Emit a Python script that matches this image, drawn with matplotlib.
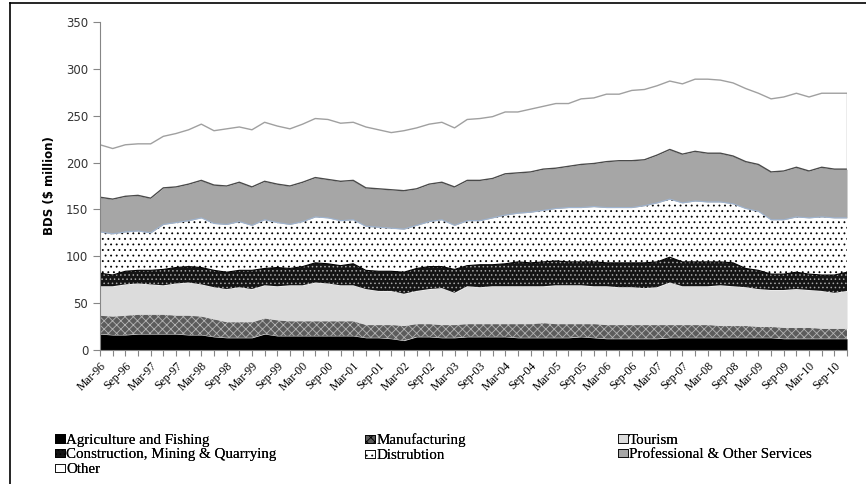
import numpy as np
import matplotlib
matplotlib.use('Agg')
import matplotlib.pyplot as plt
from matplotlib.patches import Patch
from matplotlib.lines import Line2D


# Кварталы (категории оси X)
years = ['96', '97', '98', '99', '00', '01', '02', '03', '04', '05', '06', '07', '08', '09', '10']
months = ['Mar', 'Jun', 'Sep', 'Dec']
quarters = [m + '-' + y for y in years for m in months]

# Значения по секторам, BDS $ млн
agriculture = [17, 16, 16, 17, 17, 17, 17, 16, 16, 14, 13, 13, 13, 17, 15, 15, 15, 15, 15, 15,
               15, 13, 13, 12, 10, 14, 14, 13, 13, 14, 14, 14, 14, 13, 13, 13, 13, 13, 14, 13,
               12, 12, 12, 12, 12, 13, 13, 13, 13, 13, 13, 13, 13, 13, 12, 12, 12, 12, 12, 12]
manufacturing = [20, 20, 21, 21, 21, 21, 20, 21, 20, 19, 17, 17, 17, 17, 17, 16, 16, 16, 16, 16,
                 16, 14, 14, 15, 16, 14, 14, 14, 14, 14, 14, 14, 14, 15, 15, 16, 15, 15, 14, 15,
                 15, 15, 15, 15, 15, 14, 14, 14, 14, 13, 13, 13, 12, 12, 12, 12, 12, 11, 11, 11]
tourism = [31, 32, 33, 33, 32, 31, 34, 35, 34, 34, 35, 37, 35, 35, 36, 38, 38, 41, 40, 38,
           38, 38, 36, 36, 34, 35, 37, 39, 34, 40, 39, 40, 40, 40, 40, 39, 41, 41, 41, 40,
           41, 40, 40, 39, 40, 45, 41, 41, 41, 43, 42, 41, 40, 39, 40, 41, 40, 40, 38, 40]
construction = [14, 12, 14, 14, 15, 17, 17, 17, 18, 18, 18, 18, 20, 18, 20, 18, 20, 21, 21, 21,
                23, 20, 21, 21, 23, 24, 24, 23, 25, 22, 24, 23, 24, 26, 25, 26, 26, 25, 25, 26,
                25, 26, 26, 27, 27, 27, 26, 26, 26, 25, 25, 20, 20, 17, 17, 18, 17, 17, 19, 20]
distribution = [44, 44, 42, 42, 40, 48, 48, 49, 53, 50, 51, 52, 48, 52, 48, 47, 48, 49, 49, 48,
                47, 47, 47, 46, 46, 46, 48, 50, 47, 48, 47, 50, 52, 52, 54, 55, 56, 58, 58, 59,
                59, 59, 59, 61, 63, 62, 63, 65, 64, 64, 63, 64, 63, 58, 58, 59, 60, 62, 61, 58]
professional = [37, 37, 38, 38, 37, 39, 38, 39, 40, 41, 41, 42, 41, 41, 41, 41, 42, 42, 41, 42,
                42, 41, 41, 41, 41, 39, 40, 40, 41, 43, 43, 42, 44, 43, 43, 44, 43, 44, 46, 46,
                49, 50, 50, 49, 51, 53, 52, 53, 52, 52, 51, 50, 50, 51, 52, 53, 50, 53, 52, 52]
other = [56, 54, 55, 55, 58, 55, 57, 58, 60, 58, 61, 59, 61, 63, 62, 61, 62, 63, 64, 62,
         62, 65, 63, 61, 64, 65, 64, 64, 63, 65, 66, 66, 66, 65, 67, 67, 69, 67, 70, 70,
         72, 71, 75, 75, 74, 73, 75, 77, 79, 78, 78, 78, 76, 78, 79, 79, 79, 79, 81, 81]

labels = ['Agriculture and Fishing', 'Manufacturing', 'Tourism',
          'Construction, Mining & Quarrying', 'Distrubtion',
          'Professional & Other Services', 'Other']

# Оформление слоёв: заливка, штриховка, цвет штриховки
faces = ['#000000', '#5c5c5c', '#dcdcdc', '#141414', '#ffffff', '#a6a6a6', '#ffffff']
hatches = [None, 'xxxx', None, '....', '...', None, None]
hcolors = ['#000000', '#b4b4b4', '#dcdcdc', '#a8a8a8', '#000000', '#a6a6a6', '#ffffff']

plt.rcParams['hatch.linewidth'] = 0.6

fig = plt.figure(figsize=(8.66, 4.84), dpi=100)
ax = fig.add_axes([0.1155, 0.2769, 0.9781 - 0.1155, 0.9545 - 0.2769])

series = [agriculture, manufacturing, tourism, construction, distribution, professional, other]
x = np.arange(len(quarters))
polys = ax.stackplot(x, *series, colors=faces, linewidth=0)
for p, h, hc in zip(polys, hatches, hcolors):
    p.set_edgecolor(hc)
    p.set_linewidth(0)
    if h:
        p.set_hatch(h)

# Верхние границы слоёв
cum = np.cumsum(np.array(series), axis=0)
ax.plot(x, cum[3], color='#000000', lw=0.8)
ax.plot(x, cum[4], color='#9fb4d0', lw=0.8)
ax.plot(x, cum[5], color='#4a4a4a', lw=1.0)
ax.plot(x, cum[6], color='#a0a0a0', lw=1.0)
ax.plot([x[-1], x[-1]], [cum[5][-1], cum[6][-1]], color='#a0a0a0', lw=1.0)

ax.set_xlim(0, len(quarters) - 1)
ax.set_ylim(0, 350)
ax.set_yticks(range(0, 351, 50))
ax.tick_params(axis='y', labelsize=8.5, length=5, color='#868686', labelcolor='#333333')
ax.set_xticks(x)
ax.set_xticklabels([q if i % 2 == 0 else '' for i, q in enumerate(quarters)],
                   rotation=45, ha='right', rotation_mode='anchor',
                   family='Liberation Serif', fontsize=8.5)
ax.tick_params(axis='x', length=4, color='#868686', pad=3)
for s in ['top', 'right']:
    ax.spines[s].set_visible(False)
for s in ['left', 'bottom']:
    ax.spines[s].set_color('#868686')
ax.set_ylabel('BDS ($ million)', fontsize=8.5, fontweight='bold')
ax.yaxis.set_label_coords(-0.059, 0.5)

# Легенда в три колонки
handles = [Patch(facecolor=f, edgecolor='#000000', hatch=h, linewidth=0.6)
           for f, h in zip(faces, hatches)]
cols = [[0, 3, 6], [1, 4], [2, 5]]
xpos = [0.0635, 0.4215, 0.7136]
for c, xp in zip(cols, xpos):
    leg = fig.legend([handles[i] for i in c], [labels[i] for i in c],
                     loc='upper left', bbox_to_anchor=(xp, 0.104), frameon=False,
                     prop={'family': 'Liberation Serif', 'size': 10.8},
                     handlelength=0.65, handleheight=0.5, handletextpad=0.1,
                     labelspacing=0.12, borderaxespad=0, borderpad=0)
    fig.add_artist(leg)

# Рамка рисунка
fig.add_artist(Line2D([10 / 866, 1], [1 - 3 / 484, 1 - 3 / 484], color='black', lw=1.2))
fig.add_artist(Line2D([10 / 866, 10 / 866], [0, 1 - 3 / 484], color='black', lw=1.2))

fig.savefig('out.png', dpi=100)
